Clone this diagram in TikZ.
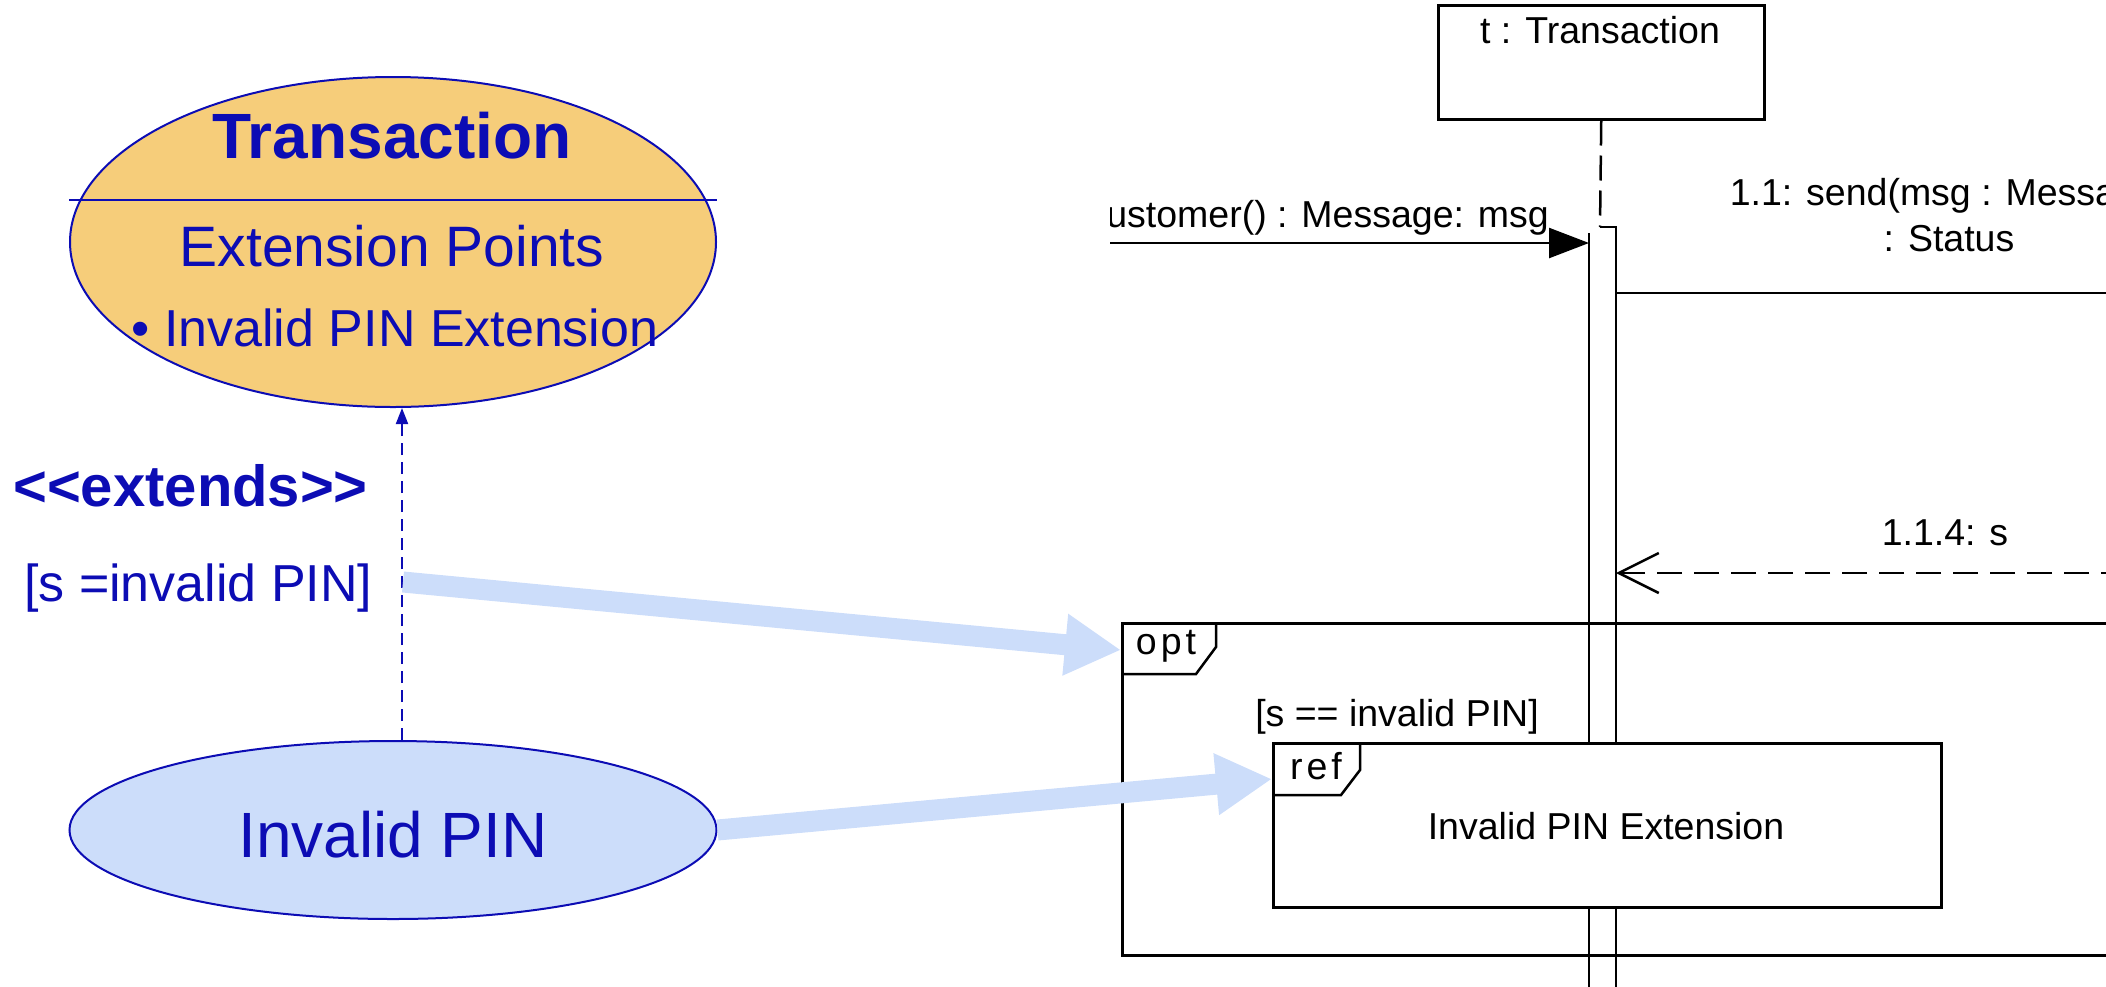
\documentclass[tikz,border=0pt]{standalone}
\usepackage{fontspec}
\setmainfont{Liberation Sans}
\newfontfamily\uifont{Liberation Sans}
\usetikzlibrary{arrows.meta,shapes.geometric}
\definecolor{ucblue}{RGB}{12,12,180}
\definecolor{ucorange}{RGB}{246,205,122}
\definecolor{uclight}{RGB}{204,221,250}
\begin{document}
\begin{tikzpicture}[x=1pt,y=-1pt,
  usecase/.style={ellipse, draw=ucblue, line width=2pt, inner sep=0pt},
  uctext/.style={text=ucblue, inner sep=0pt},
  seqline/.style={draw=black, line width=2.5pt},
  seqtext/.style={inner sep=0pt, font=\uifont\fontsize{37.5}{45}\selectfont},
  bigarrow/.style={draw=uclight, line width=21pt, -{Triangle[length=56pt,width=58pt]}},
]
\useasboundingbox (0,0) rectangle (2106,986);

% ---------- use case side ----------
\node[usecase, fill=ucorange, minimum width=646pt, minimum height=330pt] (trans) at (393,242) {};
\coordinate (sepy) at (0,200);
\draw[ucblue, line width=2pt] (trans.west |- sepy) -- (trans.east |- sepy);
\node[uctext, font=\uifont\bfseries\fontsize{64}{72}\selectfont] (transname) at (392,136) {Transaction};
\node[uctext, font=\uifont\fontsize{57}{66}\selectfont] (extpts) at (392,246) {Extension Points};
\node[uctext, font=\uifont\fontsize{52}{60}\selectfont] (extpt1) at (395,328) {• Invalid PIN Extension};

\node[usecase, fill=uclight, minimum width=647pt, minimum height=178pt] (ipin) at (393,830) {};
\node[uctext, font=\uifont\fontsize{64}{72}\selectfont] (ipinname) at (393,835) {Invalid PIN};

\coordinate (extx) at (402,0);
\draw[ucblue, line width=2pt, dash pattern=on 12pt off 7pt, -{Triangle[length=16pt,width=12pt]}]
  (ipin.north -| extx) -- (trans.south -| extx);
\node[uctext, anchor=west, font=\uifont\bfseries\fontsize{58}{66}\selectfont] (extends) at (13,486) {<{}<extends>{}>};
\node[uctext, anchor=west, font=\uifont\fontsize{52}{60}\selectfont] (guard) at (24,588) {[s =invalid PIN]};

% ---------- sequence diagram side ----------
\begin{scope}
\clip (1110,0) rectangle (2106,986);
\node[draw, line width=2.5pt, minimum width=326pt, minimum height=114pt, inner sep=0pt, anchor=north west] (tbox) at (1437,4) {};
\node[seqtext] (tname) at (1600,30) {t : Transaction};

\coordinate (actLtop) at (1589,233);
\coordinate (actLbot) at (1589,990);
\coordinate (actTick) at (1600,227);
\coordinate (actRtop) at (1616,227);
\coordinate (actRbot) at (1616,990);
\draw[seqline, dash pattern=on 25pt off 10pt] (tbox.south) -- (actTick);
\draw[seqline] (actLtop) -- (actLbot);
\draw[seqline] (actTick) -- (actRtop) -- (actRbot);

% message 1
\coordinate (m1start) at (1095,243);
\coordinate (m1end) at (1589,243);
\draw[seqline, -{Triangle[length=40pt,width=30pt]}] (m1start) -- (m1end);
\node[seqtext, anchor=base east] (m1lbl) at (1549,227) {Customer() : Message: msg};

% message 1.1
\coordinate (m11start) at (1616,293);
\coordinate (m11end) at (2200,293);
\draw[seqline] (m11start) -- (m11end);
\node[seqtext, anchor=base] (m11lbla) at (1950,205) {1.1: send(msg : Message)};
\node[seqtext, anchor=base] (m11lblb) at (1949,251) {: Status};

% return 1.1.4
\coordinate (r114start) at (2200,573);
\coordinate (r114end) at (1616,573);
\draw[seqline, dash pattern=on 25pt off 12pt, -{Straight Barb[length=40pt,width=40pt]}] (r114start) -- (r114end);
\node[seqtext] (r114lbl) at (1945,533) {1.1.4: s};

% opt frame
\node[draw, line width=2.5pt, minimum width=1079pt, minimum height=332pt, inner sep=0pt, anchor=north west] (opt) at (1121,622) {};
\draw[seqline] (opt.north west) ++(95,0) -- ++(0,25) -- ++(-20,27) -- ++(-75,0);
\node[seqtext, anchor=base] (optlbl) at (1166,654) {o\kern4pt p\kern4pt t};
\node[seqtext] (optguard) at (1397,717) {[s == invalid PIN]};

% ref frame
\node[draw, fill=white, line width=2.5pt, minimum width=668pt, minimum height=164pt, inner sep=0pt, anchor=north west] (refbox) at (1272,742) {};
\draw[seqline] (refbox.north west) ++(88,0) -- ++(0,28) -- ++(-19,25) -- ++(-69,0);
\node[seqtext, anchor=base] (reflbl) at (1316,779) {r\kern4pt e\kern4pt f};
\node[seqtext] (refname) at (1606,826) {Invalid PIN Extension};
\end{scope}

% ---------- mapping arrows ----------
\coordinate (a1start) at (403,582);
\coordinate (optin) at (1121,650);
\coordinate (refin) at (1272,779);
\draw[bigarrow] (a1start) -- (optin);
\draw[bigarrow] (ipin.east) -- (refin);
\end{tikzpicture}
\end{document}
